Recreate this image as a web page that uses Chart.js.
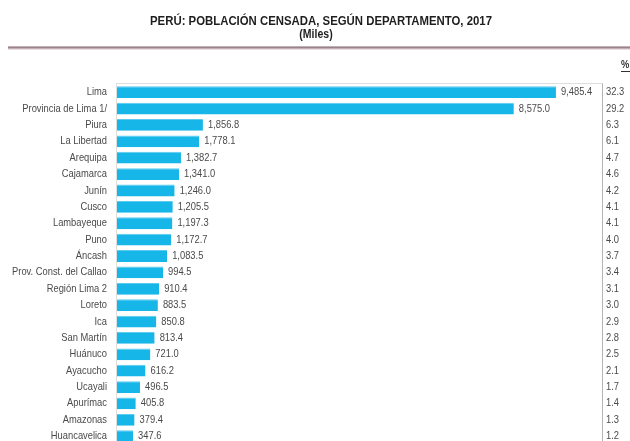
<!DOCTYPE html>
<html>
<head>
<meta charset="utf-8">
<script src="https://cdn.jsdelivr.net/npm/chart.js@4"></script>
<style>
  html, body { margin: 0; padding: 0; background: #ffffff; overflow: hidden; }
  canvas { display: block; }
</style>
</head>
<body>
<canvas id="c" width="630" height="452"></canvas>
<script>
// Población censada por departamento (miles de habitantes) y participación (%)
const departamentos = [
  'Lima', 'Provincia de Lima 1/', 'Piura', 'La Libertad', 'Arequipa', 'Cajamarca',
  'Junín', 'Cusco', 'Lambayeque', 'Puno', 'Áncash', 'Prov. Const. del Callao',
  'Región Lima 2', 'Loreto', 'Ica', 'San Martín', 'Huánuco', 'Ayacucho',
  'Ucayali', 'Apurímac', 'Amazonas', 'Huancavelica'
];
const poblacionMiles = [
  9485.4, 8575.0, 1856.8, 1778.1, 1382.7, 1341.0,
  1246.0, 1205.5, 1197.3, 1172.7, 1083.5, 994.5,
  910.4, 883.5, 850.8, 813.4, 721.0, 616.2,
  496.5, 405.8, 379.4, 347.6
];
const porcentaje = [
  32.3, 29.2, 6.3, 6.1, 4.7, 4.6,
  4.2, 4.1, 4.1, 4.0, 3.7, 3.4,
  3.1, 3.0, 2.9, 2.8, 2.5, 2.1,
  1.7, 1.4, 1.3, 1.2
];
const titulo = 'PERÚ: POBLACIÓN CENSADA, SEGÚN DEPARTAMENTO, 2017';
const subtitulo = '(Miles)';

const FAMILIA = "'Liberation Sans', Arial, sans-serif";
const fmt = v => v.toLocaleString('en-US', { minimumFractionDigits: 1, maximumFractionDigits: 1 });

// Texto estrecho: se comprime horizontalmente alrededor del punto de anclaje
function textoEstrecho(ctx, texto, x, y, align, escala) {
  ctx.save();
  ctx.translate(x, y);
  ctx.scale(escala, 1);
  ctx.textAlign = align;
  ctx.fillText(texto, 0, 0);
  ctx.restore();
}

// Encabezado, marco del área de barras, etiquetas, valores y porcentajes
const decoraciones = {
  id: 'decoraciones',
  beforeDatasetsDraw(chart) {
    const { ctx, chartArea: a } = chart;
    ctx.save();
    ctx.strokeStyle = '#dedede';
    ctx.lineWidth = 1;
    ctx.strokeRect(a.left - 0.5, a.top - 0.5, a.right - a.left + 1, a.bottom - a.top + 1);
    ctx.strokeStyle = '#b4b4b4';
    ctx.beginPath();
    ctx.moveTo(a.right + 0.5, a.top - 0.5);
    ctx.lineTo(a.right + 0.5, a.bottom);
    ctx.stroke();
    ctx.restore();
  },
  afterDraw(chart) {
    const { ctx, chartArea: a, scales } = chart;
    ctx.save();
    ctx.textBaseline = 'middle';

    // Título
    ctx.fillStyle = '#1e1e1e';
    ctx.font = 'bold 13px ' + FAMILIA;
    textoEstrecho(ctx, titulo, 321, 21, 'center', 0.875);
    ctx.font = 'bold 12px ' + FAMILIA;
    textoEstrecho(ctx, subtitulo, 316, 35, 'center', 0.875);

    // Línea bajo el encabezado
    ctx.strokeStyle = '#ecdde0';
    ctx.lineWidth = 4;
    ctx.beginPath(); ctx.moveTo(8, 48); ctx.lineTo(630, 48); ctx.stroke();
    ctx.strokeStyle = '#9a8389';
    ctx.lineWidth = 2;
    ctx.beginPath(); ctx.moveTo(8, 47.5); ctx.lineTo(630, 47.5); ctx.stroke();

    // Cabecera de la columna de porcentajes
    ctx.fillStyle = '#333333';
    ctx.font = 'bold 11px ' + FAMILIA;
    textoEstrecho(ctx, '%', 621, 65, 'left', 0.85);
    ctx.strokeStyle = '#333333';
    ctx.lineWidth = 1;
    ctx.beginPath(); ctx.moveTo(621, 71.5); ctx.lineTo(630, 71.5); ctx.stroke();

    // Nombres de departamento, valores al final de cada barra y porcentajes
    ctx.font = '11px ' + FAMILIA;
    ctx.fillStyle = '#4a4a4a';
    chart.data.labels.forEach((nombre, i) => {
      const y = scales.y.getPixelForValue(i);
      const xFin = scales.x.getPixelForValue(poblacionMiles[i]);
      textoEstrecho(ctx, nombre, a.left - 10, y, 'right', 0.85);
      textoEstrecho(ctx, fmt(poblacionMiles[i]), xFin + 5, y, 'left', 0.85);
      textoEstrecho(ctx, porcentaje[i].toFixed(1), a.right + 4, y, 'left', 0.85);
    });
    ctx.restore();
  }
};

new Chart(document.getElementById('c'), {
  type: 'bar',
  data: {
    labels: departamentos,
    datasets: [{
      data: poblacionMiles,
      backgroundColor: '#16b6e8',
      borderColor: '#5ccbef',
      borderWidth: { top: 1, bottom: 0, left: 0, right: 0 },
      borderSkipped: false,
      barPercentage: 0.72,
      categoryPercentage: 1
    }]
  },
  options: {
    indexAxis: 'y',
    responsive: false,
    animation: false,
    layout: { padding: { top: 84, right: 28, bottom: 7.6, left: 0 } },
    plugins: {
      legend: { display: false },
      title: { display: false },
      tooltip: { enabled: false }
    },
    scales: {
      x: { display: false, min: 0, max: 10480 },
      y: {
        grid: { display: false, drawTicks: false },
        border: { display: false },
        ticks: { display: false },
        afterFit(scale) { scale.width = 117; }
      }
    }
  },
  plugins: [decoraciones]
});
</script>
</body>
</html>
